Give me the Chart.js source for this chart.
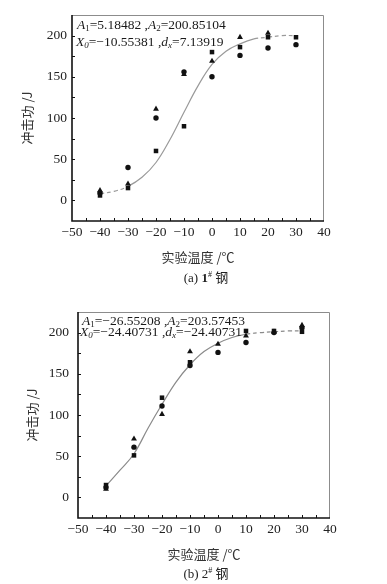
<!DOCTYPE html>
<html lang="zh">
<head>
    <meta charset="utf-8" />
    <title>冲击功 - 实验温度</title>
    <script src="https://cdn.jsdelivr.net/npm/chart.js@4.4.1/dist/chart.umd.min.js"></script>
    <style>
        body { margin: 0; background: #fff; }
        #page { position: relative; width: 387px; height: 584px; overflow: hidden; }
        canvas { position: absolute; left: 0; }
        .note { position: absolute; font-family: 'Liberation Serif', serif; font-size: 13.5px; color: #1a1a1a; white-space: nowrap; }
        .note sub { font-size: 9px; vertical-align: -2px; }
        .cap { position: absolute; width: 120px; text-align: center; font-family: 'Liberation Serif', serif; font-size: 13px; color: #222; white-space: nowrap; }
        .cap sup { font-size: 8px; vertical-align: 5px; }
        .cap .cjk { font-family: 'Noto Sans CJK SC', sans-serif; }
    </style>
</head>
<body>
<div id="page">
    <canvas id="c1" width="387" height="268" style="top:0"></canvas>
    <canvas id="c2" width="387" height="276" style="top:290px"></canvas>

    <div class="note" style="left:77px;top:17px;"><i>A</i><sub>1</sub>=5.18482 ,<i>A</i><sub>2</sub>=200.85104</div>
    <div class="note" style="left:76px;top:34px;"><i>X</i><sub><i>0</i></sub>=−10.55381 ,<i>d</i><sub><i>x</i></sub>=7.13919</div>
    <div class="cap" style="left:146px;top:267px;">(a) <b>1</b><sup>#</sup> <span class="cjk">钢</span></div>

    <div class="note" style="left:82px;top:313px;"><i>A</i><sub>1</sub>=−26.55208 ,<i>A</i><sub>2</sub>=203.57453</div>
    <div class="note" style="left:80px;top:324px;"><i>X</i><sub><i>0</i></sub>=−24.40731 ,<i>d</i><sub><i>x</i></sub>=−24.40731</div>
    <div class="cap" style="left:146px;top:563px;">(b) 2<sup>#</sup> <span class="cjk">钢</span></div>
</div>

<script>
    // test temperatures (°C)
    var temps = [-40, -30, -20, -10, 0, 10, 20, 30];

    // 1# steel, impact energy (J) of the three specimens
    var steel1Square = [6, 15, 60, 90, 180, 186, 198, 198];
    var steel1Circle = [9, 40, 100, 156, 150, 176, 185, 189];
    var steel1Triangle = [12, 20, 111, 153, 169, 198, 203, null];

    // 2# steel
    var steel2Square = [15, 51, 121, 164, null, 202, 202, 201];
    var steel2Circle = [12, 61, 111, 160, 176, 188, 200, 206];
    var steel2Triangle = [10, 71, 101, 177, 186, 196, 201, 209];

    // fitted curves
    var curveTemps = [-40, -35, -30, -25, -20, -15, -10, -5, 0, 5, 10, 15, 20, 25, 30];
    var steel1Curve = [8, 11, 17, 28, 46, 74, 107, 139, 165, 181, 190, 196, 198, 200, 200];
    var steel2Curve = [14, 33, 53, 84, 113, 140, 161, 177, 187, 194, 198, 200, 201, 202, 202];

    // axis ticks
    var xTicks = [-50, -40, -30, -20, -10, 0, 10, 20, 30, 40];
    var yTicks = [0, 50, 100, 150, 200];

    function pts(xs, ys) {
        var out = [];
        for (var i = 0; i < xs.length; i++) {
            if (ys[i] !== null) out.push({ x: xs[i], y: ys[i] });
        }
        return out;
    }

    //Draws the box round the plot and the small inward ticks.
    var framePlugin = {
        id: 'frame',
        afterDatasetsDraw: function (chart) {
            var ctx = chart.ctx, a = chart.chartArea, x = chart.scales.x, y = chart.scales.y;
            ctx.save();
            ctx.strokeStyle = '#8c8c8c';
            ctx.lineWidth = 1;
            ctx.beginPath();
            ctx.moveTo(a.left, a.top + 0.5);
            ctx.lineTo(a.right - 0.5, a.top + 0.5);
            ctx.lineTo(a.right - 0.5, a.bottom);
            ctx.stroke();

            ctx.strokeStyle = '#111';
            ctx.lineWidth = 1.6;
            ctx.beginPath();
            ctx.moveTo(a.left, a.top);
            ctx.lineTo(a.left, a.bottom);
            ctx.lineTo(a.right, a.bottom);
            ctx.stroke();

            ctx.lineWidth = 1;
            ctx.beginPath();
            for (var v = -45; v < 40; v += 5) {
                var px = Math.round(x.getPixelForValue(v)) + 0.5;
                ctx.moveTo(px, a.bottom);
                ctx.lineTo(px, a.bottom - 3);
            }
            for (var w = 0; w < 225; w += 25) {
                var py = Math.round(y.getPixelForValue(w)) + 0.5;
                ctx.moveTo(a.left, py);
                ctx.lineTo(a.left + 3, py);
            }
            ctx.stroke();
            ctx.restore();
        }
    };

    function makeChart(id, sq, ci, tr, curve, opt) {
        var tickFont = { family: 'Liberation Serif', size: 13.5 };
        var titleFont = { family: 'Noto Sans CJK SC', size: 13 };
        return new Chart(document.getElementById(id), {
            type: 'scatter',
            data: {
                datasets: [{
                    data: pts(temps, sq), pointStyle: 'rect', pointRadius: 3.2,
                    backgroundColor: '#111', borderColor: '#111', borderWidth: 0, order: 1
                }, {
                    data: pts(temps, tr), pointStyle: 'triangle', pointRadius: 3.4,
                    backgroundColor: '#111', borderColor: '#111', borderWidth: 0, order: 2
                }, {
                    data: pts(temps, ci), pointStyle: 'circle', pointRadius: 2.7,
                    backgroundColor: '#111', borderColor: '#111', borderWidth: 0, order: 3
                }, {
                    type: 'line',
                    data: pts(curveTemps, curve),
                    borderColor: opt.lineColor, borderWidth: 1.2,
                    pointRadius: 0, tension: 0.4, fill: false, order: 10,
                    segment: {
                        borderDash: function (c) {
                            return (c.p0DataIndex < opt.dashBefore || c.p0DataIndex >= opt.dashFrom) ? [4, 3] : undefined;
                        }
                    }
                }]
            },
            options: {
                responsive: false,
                animation: false,
                layout: { padding: { top: opt.top, right: opt.right, left: 0, bottom: 0 } },
                plugins: { legend: { display: false }, tooltip: { enabled: false } },
                scales: {
                    x: {
                        type: 'linear', min: -50, max: 40,
                        afterBuildTicks: function (s) { s.ticks = xTicks.map(function (v) { return { value: v }; }); },
                        afterFit: function (s) { s.height = opt.xHeight; },
                        grid: { display: false, drawTicks: false },
                        border: { display: false },
                        ticks: { font: tickFont, color: '#222', padding: 3, maxRotation: 0,
                            callback: function (v) { return v < 0 ? '−' + Math.abs(v) : '' + v; } },
                        title: { display: true, text: '实验温度 /℃', font: titleFont, color: '#333',
                            padding: { top: 0, bottom: opt.xTitlePad } }
                    },
                    y: {
                        type: 'linear', min: -25, max: 225,
                        afterBuildTicks: function (s) { s.ticks = yTicks.map(function (v) { return { value: v }; }); },
                        afterFit: function (s) { s.width = opt.yWidth; },
                        grid: { display: false, drawTicks: false },
                        border: { display: false },
                        ticks: { font: tickFont, color: '#222', padding: opt.yPad },
                        title: { display: true, text: '冲击功 /J', font: titleFont, color: '#333',
                            padding: { top: opt.yTitlePad, bottom: 0 } }
                    }
                }
            },
            plugins: [framePlugin]
        });
    }

    makeChart('c1', steel1Square, steel1Circle, steel1Triangle, steel1Curve, {
        top: 15, right: 63, xHeight: 47, yWidth: 72, yPad: 5, yTitlePad: 19, xTitlePad: 3,
        lineColor: '#9a9a9a', dashBefore: 2, dashFrom: 11
    });
    makeChart('c2', steel2Square, steel2Circle, steel2Triangle, steel2Curve, {
        top: 22, right: 57, xHeight: 48, yWidth: 78, yPad: 9, yTitlePad: 24, xTitlePad: 4,
        lineColor: '#8a8a8a', dashBefore: 0, dashFrom: 10
    });
</script>
</body>
</html>
